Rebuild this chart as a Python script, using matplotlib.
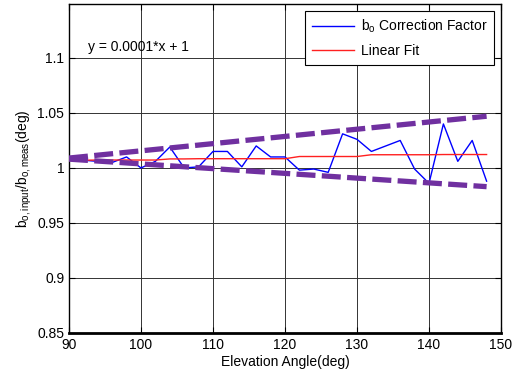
import matplotlib
matplotlib.use("Agg")
import matplotlib.pyplot as plt
import numpy as np

plt.rcParams['font.family'] = ['Liberation Sans', 'DejaVu Sans']

angles = [90, 92, 94, 96, 98, 100, 102, 104, 106, 108, 110, 112, 114, 116, 118,
          120, 122, 124, 126, 128, 130, 132, 134, 136, 138, 140, 142, 144, 146, 148]
correction = [1.009, 1.007, 1.006, 1.005, 1.010, 1.000, 1.006, 1.019, 1.000, 1.001,
              1.015, 1.015, 1.001, 1.020, 1.010, 1.010, 0.998, 0.999, 0.996, 1.031,
              1.026, 1.015, 1.020, 1.025, 0.999, 0.986, 1.040, 1.006, 1.025, 0.988]
fit = [1.0070, 1.0070, 1.0072, 1.0072, 1.0072, 1.0072, 1.0072, 1.0082, 1.0082, 1.0084,
       1.0084, 1.0084, 1.0084, 1.0084, 1.0084, 1.0084, 1.0104, 1.0104, 1.0104, 1.0104,
       1.0104, 1.0120, 1.0120, 1.0120, 1.0120, 1.0120, 1.0122, 1.0122, 1.0122, 1.0122]
env_x = [90, 148]
env_upper = [1.009, 1.047]
env_lower = [1.008, 0.983]

xticks = [90, 100, 110, 120, 130, 140, 150]
yticks = [0.85, 0.9, 0.95, 1.0, 1.05, 1.1]
ytick_labels = ['0.85', '0.9', '0.95', '1', '1.05', '1.1']

fig = plt.figure(figsize=(5.13, 3.76), dpi=100)
ax = fig.add_axes([69/513, 43/376, 432/513, 329/376])

ax.plot(angles, correction, color='#0000ff', lw=1.0, label=r'b$_\mathregular{o}$ Correction Factor', zorder=3)
ax.plot(angles, fit, color='#ff2020', lw=1.0, label='Linear Fit', zorder=3)
purple = '#7030a0'
ax.plot(env_x, env_upper, color=purple, lw=3.8, dashes=(3.6, 1.2), solid_capstyle='butt', zorder=4)
ax.plot(env_x, env_lower, color=purple, lw=3.8, dashes=(3.6, 1.2), solid_capstyle='butt', zorder=4)

ax.set_xlim(90, 150)
ax.set_ylim(0.85, 1.149)
ax.set_xticks(xticks)
ax.set_yticks(yticks)
ax.set_yticklabels(ytick_labels)
ax.tick_params(direction='in', labelsize=10, length=4, top=True, right=True)
ax.grid(True, color='#333333', lw=0.7)
for s in ax.spines.values():
    s.set_linewidth(1.0)
ax.spines['bottom'].set_linewidth(2.0)

ax.set_xlabel('Elevation Angle(deg)', fontsize=10, labelpad=2)
ax.set_ylabel(r'b$_\mathregular{o,input}$/b$_\mathregular{o,meas}$(deg)', fontsize=10, labelpad=2)

ax.text(92.6, 1.110, 'y = 0.0001*x + 1', fontsize=10, va='center', ha='left')

leg = ax.legend(loc='upper right', fontsize=10, frameon=True, fancybox=False,
                edgecolor='black', framealpha=1, borderaxespad=0.5, handlelength=3.0,
                handletextpad=0.5, borderpad=0.5, labelspacing=0.6)
leg.get_frame().set_linewidth(0.8)

fig.savefig('out.png', dpi=100)
